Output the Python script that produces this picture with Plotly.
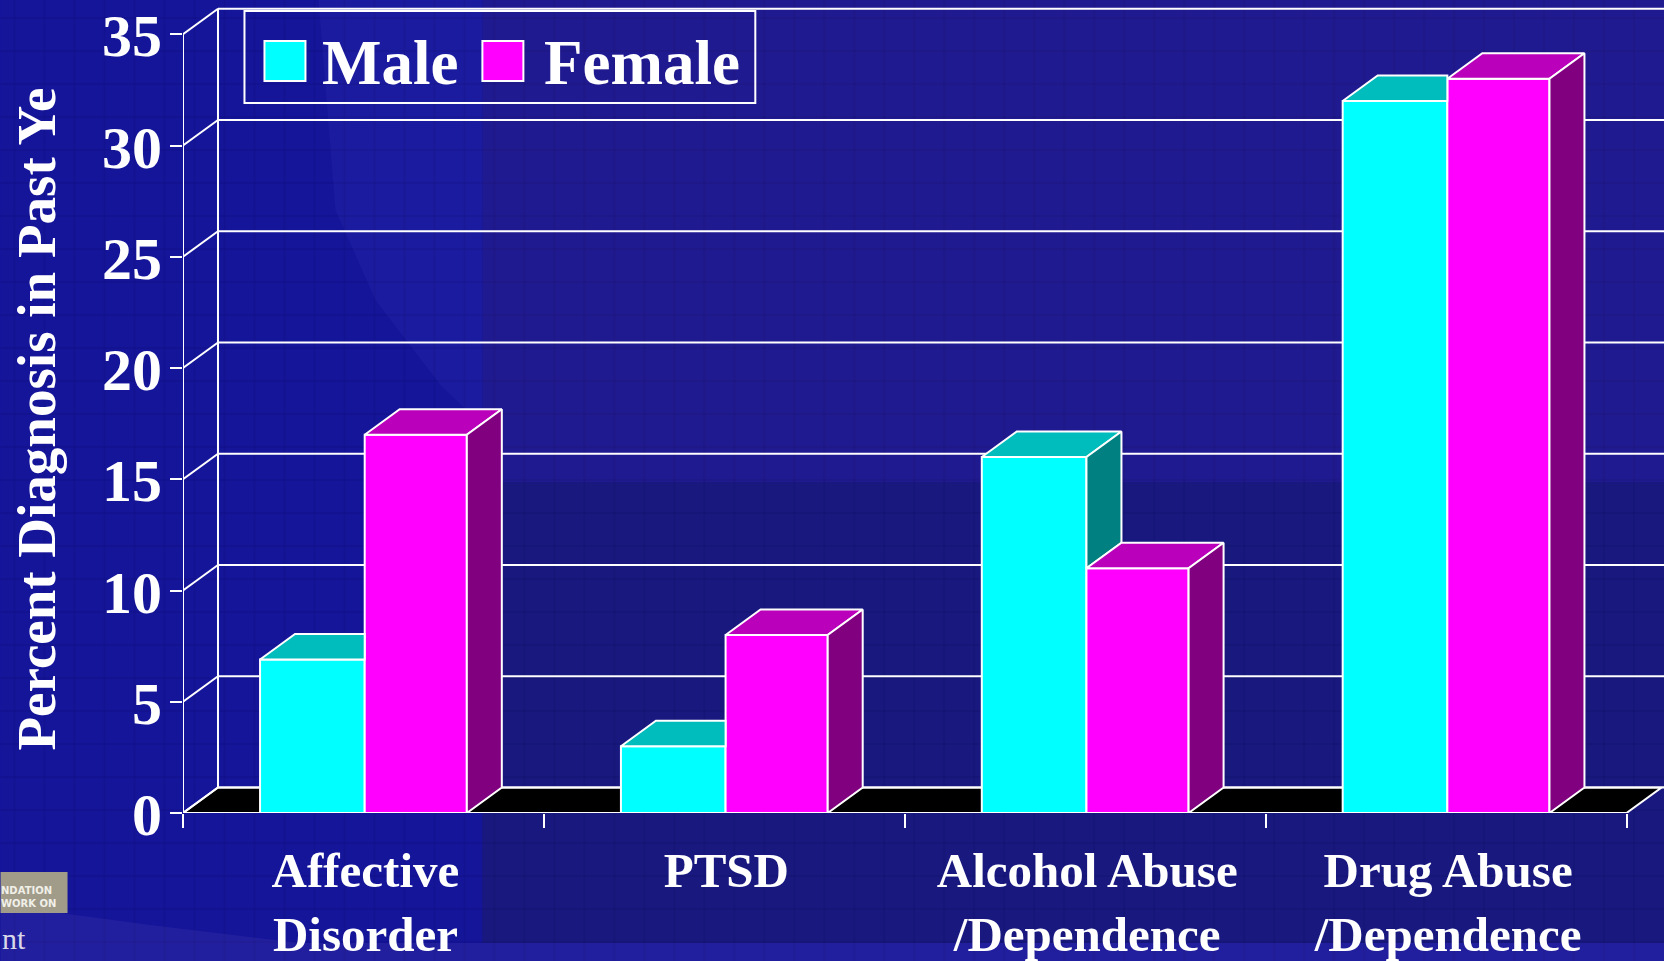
import plotly.graph_objects as go

categories = ["Affective<br>Disorder", "PTSD", "Alcohol Abuse<br>/Dependence", "Drug Abuse<br>/Dependence"]
male = [6.9, 3.0, 16.0, 32.0]
female = [17.0, 8.0, 11.0, 33.0]
y_ticks = [0, 5, 10, 15, 20, 25, 30, 35]
y_title = "Percent Diagnosis in Past Ye"

W, H = 1664, 961
L, T, R, B = 182.5, 0, 0, 148
CAT_PX = 361.0
UNIT_PX = 22.25
DX = 35.0 / CAT_PX      # depth offset in x units
DY = 25.5 / UNIT_PX     # depth offset in y units
BAR_M, BAR_F = 0.29, 0.283
FONT = "Liberation Serif"
MALE_C, MALE_TOP, MALE_SIDE = "#00FFFF", "#00BDBD", "#008080"
FEM_C, FEM_TOP, FEM_SIDE = "#FF00FF", "#BB00BB", "#800080"
pw, ph = W - L - R, H - T - B


def px(x):
    return (x - L) / pw


def py(y):
    return 1 - (y - T) / ph


def page_rect(x0, y0, x1, y1, color, **kw):
    return dict(type="rect", xref="paper", yref="paper", x0=px(x0), x1=px(x1), y0=py(y0), y1=py(y1),
                fillcolor=color, line=dict(width=0), layer="below", **kw)


def page_path(points, color):
    d = "M" + " L".join(f"{px(a):.5f},{py(b):.5f}" for a, b in points) + " Z"
    return dict(type="path", xref="paper", yref="paper", path=d, fillcolor=color, line=dict(width=0), layer="below")


shapes = []
# slide background
shapes.append(page_rect(0, 0, 482, H, "#15159A"))
shapes.append(page_rect(482, 0, W, 482, "#201A90"))
shapes.append(page_rect(482, 482, W, H, "#18187F"))
shapes.append(page_path([(318, 0), (335, 210), (375, 300), (440, 385), (482, 425), (482, 0)], "#1B1B9F"))
shapes.append(page_path([(0, 905), (150, 925), (300, 943), (1664, 943), (1664, 961), (0, 961)], "#221F9E"))
# faint slide texture
for xv in range(14, W, 30):
    shapes.append(dict(type="line", xref="paper", yref="paper", x0=px(xv), x1=px(xv), y0=py(0), y1=py(H),
                       line=dict(color="rgba(0,0,40,0.06)", width=2), layer="below"))
for yv in range(18, H, 33):
    shapes.append(dict(type="line", xref="paper", yref="paper", x0=px(0), x1=px(W), y0=py(yv), y1=py(yv),
                       line=dict(color="rgba(0,0,40,0.06)", width=2), layer="below"))
# logo box
shapes.append(page_rect(0, 872, 67, 913, "#A19B8A"))

n = len(categories)
wline = dict(color="white", width=2)
# floor
shapes.append(dict(type="path", path=f"M0,0 L{DX},{DY} L{n + DX},{DY} L{n},0 Z", fillcolor="black",
                   line=wline, layer="below"))
# back wall gridlines and connectors
for v in y_ticks:
    shapes.append(dict(type="line", x0=DX, x1=n + 2 * DX, y0=v + DY, y1=v + DY, line=wline, layer="below"))
    shapes.append(dict(type="line", x0=0, x1=DX, y0=v, y1=v + DY, line=wline, layer="below"))
shapes.append(dict(type="line", x0=DX, x1=DX, y0=DY, y1=y_ticks[-1] + DY, line=wline, layer="below"))
# axis lines
shapes.append(dict(type="line", x0=0, x1=0, y0=0, y1=y_ticks[-1], line=wline, layer="above"))
shapes.append(dict(type="line", x0=0, x1=n, y0=0, y1=0, line=wline, layer="above"))

# legend frame and swatches
shapes.append(dict(type="rect", xref="paper", yref="paper", x0=px(244), x1=px(755), y0=py(11), y1=py(103),
                   line=wline, fillcolor="rgba(0,0,0,0)", layer="below"))
shapes.append(dict(type="rect", xref="paper", yref="paper", x0=px(264), x1=px(305), y0=py(41), y1=py(81),
                   line=wline, fillcolor=MALE_C))
shapes.append(dict(type="rect", xref="paper", yref="paper", x0=px(482), x1=px(523), y0=py(41), y1=py(81),
                   line=wline, fillcolor=FEM_C))

centers = [i + 0.5 for i in range(n)]
SPLIT = 0.0035
fig = go.Figure()
fig.add_trace(go.Bar(x=centers, y=male, name="Male", width=BAR_M, offset=SPLIT - BAR_M,
                     marker=dict(color=MALE_C, line=wline), showlegend=False))
fig.add_trace(go.Bar(x=centers, y=female, name="Female", width=BAR_F, offset=SPLIT,
                     marker=dict(color=FEM_C, line=wline), showlegend=False))


def face(xs, ys, color):
    fig.add_trace(go.Scatter(x=xs + xs[:1], y=ys + ys[:1], mode="lines", fill="toself", fillcolor=color,
                             line=dict(color="white", width=2), hoverinfo="skip", showlegend=False))


for c, m, f in zip(centers, male, female):
    xm = c + SPLIT
    xl, xr = xm - BAR_M, xm + BAR_F
    # male top, cut off by the female front when that is taller
    if m < f:
        face([xl, xl + DX, xm, xm], [m, m + DY, m + DY, m], MALE_TOP)
    else:
        face([xl, xl + DX, xm + DX, xm], [m, m + DY, m + DY, m], MALE_TOP)
        face([xm, xm + DX, xm + DX, xm], [m, m + DY, f + DY, f], MALE_SIDE)
    # female top and side
    face([xm, xm + DX, xr + DX, xr], [f, f + DY, f + DY, f], FEM_TOP)
    face([xr, xr + DX, xr + DX, xr], [0, DY, f + DY, f], FEM_SIDE)


def note(x, y, text, size, color="white", family=FONT, weight="bold", **kw):
    base = dict(xref="paper", yref="paper", x=px(x), y=py(y), text=text, showarrow=False,
                xanchor="center", yanchor="middle",
                font=dict(family=family, size=size, color=color, weight=weight))
    base.update(kw)
    return base


ann = [
    note(390, 63, "Male", 63),
    note(642, 63, "Female", 63),
    note(35, 419, y_title, 55, textangle=-90),
    note(-2, 897, "NDATION<br>WORK ON", 10, color="#F0F0E8", family="DejaVu Sans", xanchor="left", align="left"),
    note(-1, 939, "nt", 30, color="#D8D8E8", weight="normal", xanchor="left"),
]

fig.update_layout(
    width=W, height=H, margin=dict(l=L, r=R, t=T, b=B, pad=0),
    paper_bgcolor="#15159A", plot_bgcolor="rgba(0,0,0,0)",
    shapes=shapes, annotations=ann, showlegend=False,
    xaxis=dict(range=[0, pw / CAT_PX], showgrid=False, zeroline=False, showline=False, automargin=False,
               tickmode="array", tickvals=centers, ticktext=categories, ticks="", ticklabelstandoff=24,
               ticklabelshift=2,
               tickfont=dict(family=FONT, size=49, color="white", weight="bold"),
               minor=dict(tickmode="array", tickvals=list(range(n + 1)), ticks="outside", ticklen=14,
                          tickwidth=2, tickcolor="white", showgrid=False)),
    yaxis=dict(range=[0, ph / UNIT_PX], showgrid=False, zeroline=False, showline=False, automargin=False,
               tickmode="array", tickvals=y_ticks, ticks="outside", ticklen=12, tickwidth=2, tickcolor="white",
               ticklabelshift=1, ticklabelstandoff=-4,
               tickfont=dict(family=FONT, size=60, color="white", weight="bold")),
)
fig.write_html("out.html", config=dict(displayModeBar=False), post_script="document.body.style.margin='0';")
